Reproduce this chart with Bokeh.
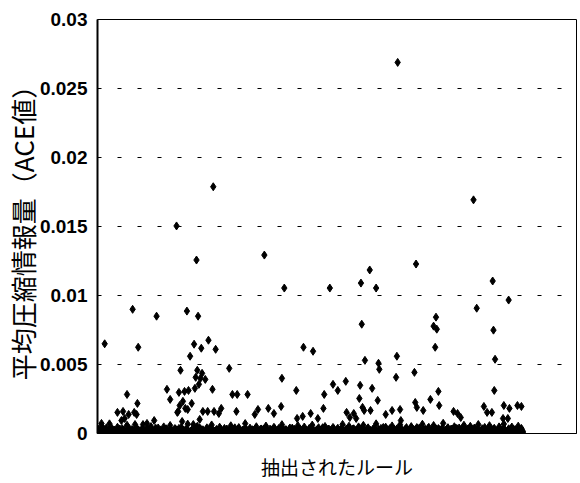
from bokeh.plotting import figure
from bokeh.models import Range1d, FixedTicker, ColumnDataSource
from bokeh.embed import file_html
from bokeh.resources import INLINE

# ---- data -------------------------------------------------------------
# rules with a noticeably large ACE value (rule number, ACE value)
rule_ids = [
    9, 44, 51, 74, 112, 126, 124, 99, 145, 209, 234, 291, 330, 341, 349, 399,
    376, 471, 495, 515, 475, 424, 421, 425, 331, 496, 423, 498, 139, 121, 130,
    148, 258, 270, 116, 104, 165, 125, 131, 123, 129, 135, 122, 127, 231, 335,
    352, 353, 375, 374, 397, 37, 50, 87, 91, 102, 109, 114, 107, 103, 113, 101,
    118, 144, 169, 175, 188, 249, 284, 295, 301, 311, 329, 344, 328, 351, 427,
    428, 417, 497, 398, 25, 32, 39, 46, 34, 30, 49, 62, 71, 5, 47, 128, 132,
    138, 146, 152, 155, 174, 201, 197, 214, 221, 230, 250, 257, 267, 276, 283,
    332, 334, 342, 312, 321, 324, 316, 361, 369, 379, 380, 400, 408, 446, 451,
    455, 484, 488, 494, 509, 516, 526, 531, 508, 514, 100, 110, 106, 120,
]
ace_values = [
    0.0065, 0.0090, 0.00625, 0.0085, 0.00887, 0.0085, 0.01257, 0.01504,
    0.01788, 0.01293, 0.01054, 0.01054, 0.0109, 0.01185, 0.01054, 0.01228,
    0.02689, 0.01693, 0.01105, 0.00967, 0.00908, 0.00843, 0.00778, 0.00756,
    0.00792, 0.00749, 0.00625, 0.00538, 0.00676, 0.00647, 0.00618, 0.0061,
    0.00625, 0.00596, 0.0056, 0.00458, 0.00472, 0.00458, 0.00436, 0.00407,
    0.0040, 0.00392, 0.00327, 0.00356, 0.0040, 0.0053, 0.00509, 0.00465,
    0.0056, 0.00407, 0.00443, 0.00283, 0.00218, 0.0032, 0.00247, 0.00298,
    0.00305, 0.00312, 0.00233, 0.00203, 0.00174, 0.0016, 0.00218, 0.0032,
    0.00283, 0.00283, 0.00283, 0.00312, 0.00283, 0.00356, 0.00312, 0.00378,
    0.00349, 0.00327, 0.00254, 0.0024, 0.00305, 0.00203, 0.00247, 0.00312,
    0.00225, 0.00153, 0.0016, 0.00138, 0.00153, 0.00109, 0.00094, 0.00138,
    0.00073, 0.00094, 0.00073, 0.00065, 0.00102, 0.0016, 0.0016, 0.0016,
    0.00145, 0.00182, 0.0016, 0.00174, 0.00138, 0.00182, 0.00145, 0.00196,
    0.00109, 0.00124, 0.00145, 0.00109, 0.00182, 0.00189, 0.00167, 0.00167,
    0.00153, 0.00145, 0.00109, 0.00116, 0.00138, 0.00167, 0.00174, 0.00094,
    0.00189, 0.00167, 0.0016, 0.00145, 0.00116, 0.00196, 0.00153, 0.00153,
    0.00203, 0.00182, 0.00203, 0.00196, 0.00109, 0.00109, 0.00153, 0.00182,
    0.00087, 0.00065,
]

# the many rules with ACE close to zero, values in units of 1e-5
low_rule_ids_odd = list(range(1, 535, 2))
low_ace_odd_e5 = [
    30, 8, 55, 12, 2, 40, 6, 70, 18, 3, 25, 0, 45, 10, 4, 35, 15, 1, 60, 20,
    5, 28, 9, 0, 42, 14, 3, 22, 65, 7, 1, 33, 11, 50, 2, 19, 38, 6, 0, 26,
    13, 48, 4, 24, 1, 58, 16, 8, 36, 2, 21, 0, 44, 12, 5, 30, 68, 9, 17, 3,
    27, 0, 52, 10, 34, 6, 15, 2, 41, 23, 7, 62, 1, 18, 29, 4, 46, 11, 0, 37,
    8, 20, 3, 56, 14, 31, 0, 9, 43, 17, 5, 25, 72, 2, 12, 39, 6, 22, 1, 49,
    16, 4, 33, 10, 0, 54, 21, 7, 28, 3, 45, 13, 1, 36, 19, 64, 5, 26, 9, 0,
    40, 15, 2, 30, 11, 57, 6, 23, 0, 47, 18, 4, 35, 8, 61, 14, 1, 27, 42, 3,
    20, 9, 51, 0, 32, 16, 5, 44, 12, 2, 38, 24, 7, 66, 1, 29, 10, 53, 4, 17,
    34, 0, 22, 48, 6, 13, 59, 3, 26, 41, 8, 1, 31, 15, 70, 5, 19, 37, 2, 11,
    46, 7, 24, 0, 55, 14, 3, 33, 20, 63, 9, 1, 28, 43, 6, 16, 50, 2, 25, 12,
    4, 39, 18, 67, 0, 30, 10, 45, 5, 21, 58, 13, 2, 36, 8, 27, 74, 1, 15, 42,
    9, 32, 3, 49, 17, 6, 40, 23, 0, 60, 11, 29, 4, 52, 19, 7, 35, 14, 65, 1,
    26, 10, 44, 2, 31, 57, 8, 21, 38, 0, 16, 48, 5, 24, 69, 12, 3, 34, 20, 47,
    6, 28, 15, 53, 2, 37, 11,
]
low_rule_ids_even = list(range(2, 534, 2))
low_ace_even_e5 = [
    12, 22, 4, 31, 15, 7, 26, 10, 38, 18, 3, 24, 14, 33, 9, 20, 28, 5, 17, 35,
    11, 25, 6, 30, 16, 21, 8, 36, 13, 27, 19, 4, 32, 23, 10, 29, 15, 40, 7, 18,
    24, 12, 34, 20, 9, 28, 17, 5, 30, 14, 37, 22, 8, 26, 11, 33, 19, 6, 25, 16,
    31, 10, 21, 39, 13, 27, 7, 23, 18, 34, 9, 29, 15, 4, 26, 20, 36, 12, 24, 8,
    32, 17, 28, 11, 22, 41, 14, 6, 30, 19, 25, 10, 35, 16, 21, 8, 27, 13, 38, 23,
    5, 29, 18, 33, 12, 24, 9, 31, 20, 15, 37, 7, 26, 22, 11, 34, 17, 28, 6, 30,
    14, 39, 21, 10, 25, 18, 32, 8, 27, 16, 23, 12, 36, 19, 29, 5, 24, 33, 13, 20,
    42, 9, 26, 15, 31, 22, 7, 35, 17, 28, 11, 24, 38, 14, 19, 30, 6, 27, 21, 33,
    10, 25, 16, 40, 12, 29, 20, 8, 34, 18, 23, 13, 37, 26, 9, 31, 15, 22, 44, 11,
    28, 19, 35, 7, 24, 30, 14, 21, 39, 17, 26, 10, 32, 23, 16, 36, 12, 29, 20, 43,
    8, 27, 18, 33, 25, 13, 38, 22, 15, 30, 9, 34, 21, 28, 17, 41, 11, 24, 35, 19,
    26, 14, 31, 23, 37, 10, 29, 18, 45, 16, 25, 33, 12, 27, 20, 39, 15, 30, 22, 8,
    34, 19, 28, 13, 24, 36, 17, 32, 21, 11, 27, 40, 16, 23, 30, 9, 25, 18, 33, 14,
    20, 26, 12, 31, 17, 22,
]

y_ticks = [0, 0.005, 0.01, 0.015, 0.02, 0.025, 0.03]
y_tick_labels = ["0", "0.005", "0.01", "0.015", "0.02", "0.025", "0.03"]
x_label = "抽出されたルール"
y_label = "平均圧縮情報量（ACE値）"

# ---- figure -----------------------------------------------------------
low_ids = low_rule_ids_odd + low_rule_ids_even
low_ace = [v * 1e-5 for v in low_ace_odd_e5 + low_ace_even_e5]
src = ColumnDataSource(data=dict(x=low_ids + rule_ids, y=low_ace + ace_values))

p = figure(width=580, height=483, output_backend="svg", toolbar_location=None,
           x_range=Range1d(0, 600), y_range=Range1d(0, 0.03),
           min_border_left=96, min_border_right=4, min_border_top=19,
           min_border_bottom=50)
p.background_fill_color = "white"
p.border_fill_color = "white"
p.outline_line_color = "black"
p.outline_line_width = 1

p.xgrid.visible = False
p.ygrid.ticker = FixedTicker(ticks=y_ticks[1:-1])
p.ygrid.grid_line_color = "black"
p.ygrid.grid_line_width = 1
p.ygrid.grid_line_dash = "4 16"

yax = p.yaxis[0]
yax.ticker = FixedTicker(ticks=y_ticks)
yax.major_label_overrides = {t: l for t, l in zip(y_ticks, y_tick_labels)}
yax.major_tick_out = 0
yax.major_tick_in = 0
yax.minor_tick_line_color = None
yax.axis_line_color = "black"
yax.axis_line_width = 2
yax.major_label_standoff = 10
yax.major_label_text_font = "Liberation Sans"
yax.major_label_text_font_size = "19px"
yax.major_label_text_font_style = "bold"
yax.major_label_text_color = "black"
yax.axis_label = y_label
yax.axis_label_text_font = "Noto Sans CJK JP"
yax.axis_label_text_font_size = "26px"
yax.axis_label_text_font_style = "normal"
yax.axis_label_text_color = "black"
yax.axis_label_standoff = -4

xax = p.xaxis[0]
xax.ticker = FixedTicker(ticks=[])
xax.major_tick_out = 0
xax.major_tick_in = 0
xax.minor_tick_line_color = None
xax.axis_line_color = "black"
xax.axis_label = x_label
xax.axis_label_text_font = "Noto Sans CJK JP"
xax.axis_label_text_font_size = "19px"
xax.axis_label_text_font_style = "normal"
xax.axis_label_text_color = "black"
xax.axis_label_standoff = 19

p.scatter("x", "y", source=src, marker="diamond", size=8,
          fill_color="black", line_color="black", line_width=1)

open("out.html", "w").write(file_html(p, INLINE))
